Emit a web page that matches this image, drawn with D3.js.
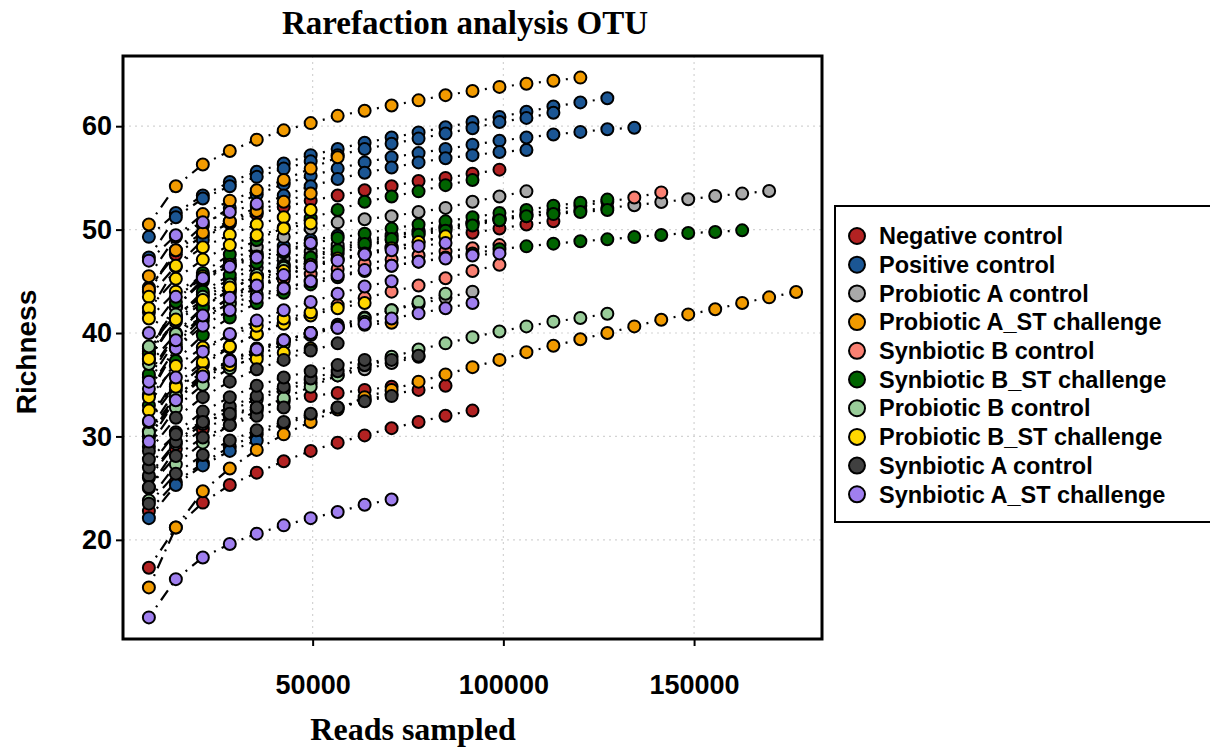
<!DOCTYPE html>
<html lang="en">
<head>
  <meta charset="UTF-8">
  <title>Rarefaction analysis OTU</title>
  <style>
    body { margin: 0; background: #fff; }
    svg { display: block; }
  </style>
</head>
<body>
<svg id="chart"></svg>
<script src="https://cdn.jsdelivr.net/npm/d3@7/dist/d3.min.js"></script>
<script>
// reads sampled at each rarefaction step
const depths = [7070, 14140, 21210, 28280, 35350, 42420, 49490, 56560, 63630, 70700,
  77770, 84840, 91910, 98980, 106050, 113120, 120190, 127260, 134330, 141400,
  148470, 155540, 162610, 169680, 176750];

const groupNames = ['Negative control', 'Positive control', 'Probiotic A control',
  'Probiotic A_ST challenge', 'Synbiotic B control', 'Synbiotic B_ST challenge',
  'Probiotic B control', 'Probiotic B_ST challenge', 'Synbiotic A control',
  'Synbiotic A_ST challenge'];
const groupColors = ['#B22222', '#1B5694', '#A9A9A9', '#F29B00', '#FA8072',
  '#006400', '#99CC99', '#FFD700', '#404040', '#A07FEF'];

// richness per sample (one array per sample, one value per depth)
const negativeControl = [
  [44.4, 47.6, 49.4, 50.6, 51.5, 52.2, 52.8, 53.3, 53.8, 54.2, 54.7, 55.0, 55.4, 55.8],
  [34.0, 38.5, 41.2, 43.0, 44.4, 45.5, 46.4, 47.1, 47.7, 48.3, 48.8, 49.3, 49.7, 50.1, 50.5, 50.8],
  [35.7, 39.8, 42.4, 44.2, 45.5, 46.6, 47.5, 48.2, 48.8, 49.3, 49.8, 50.2, 50.6, 50.9],
  [22.8, 25.6, 27.4, 29.0, 30.2, 31.2, 32.0, 32.8, 33.5, 34.1, 34.5, 34.9],
  [25.0, 28.8, 30.7, 31.9, 32.8, 33.4, 33.9, 34.2, 34.5, 34.8],
  [17.3, 21.2, 23.6, 25.3, 26.5, 27.6, 28.6, 29.4, 30.1, 30.8, 31.4, 32.0, 32.5]
];
const positiveControl = [
  [49.3, 51.6, 53.3, 54.6, 55.6, 56.4, 57.2, 57.8, 58.4, 58.9, 59.4, 59.9, 60.4, 60.9, 61.4, 61.9, 62.3, 62.7],
  [47.3, 51.2, 53.0, 54.2, 55.1, 55.9, 56.6, 57.2, 57.8, 58.3, 58.8, 59.3, 59.8, 60.4, 60.8, 61.3],
  [44.0, 48.0, 50.4, 52.1, 53.4, 54.4, 55.2, 55.9, 56.5, 57.0, 57.4, 57.8, 58.2, 58.6, 58.9, 59.2, 59.45, 59.7, 59.85],
  [42.0, 46.4, 49.0, 50.8, 52.2, 53.3, 54.2, 54.9, 55.5, 56.0, 56.5, 56.9, 57.2, 57.5, 57.7],
  [38.5, 42.5, 45.0, 46.6, 47.7, 48.4, 49.0, 49.4],
  [22.1, 25.3, 27.2, 28.6, 29.6]
];
const probioticAControl = [
  [38.0, 42.5, 45.2, 47.0, 48.3, 49.3, 50.1, 50.7, 51.0, 51.3, 51.7, 52.1, 52.7, 53.2, 53.7],
  [37.5, 41.5, 43.7, 45.2, 46.3, 47.2, 47.9, 48.5, 49.0, 49.45, 49.9, 50.3, 50.7, 51.0, 51.3, 51.6, 51.85, 52.1, 52.35, 52.67, 52.93, 53.25, 53.48, 53.74],
  [30.0, 33.5, 35.6, 37.0, 38.2, 39.2, 40.0, 40.8, 41.5, 42.2, 42.8, 43.4, 44.0],
  [26.0, 29.3, 31.2, 32.5, 33.6, 34.5, 35.2, 35.9, 36.5, 37.1, 37.7]
];
const probioticASTChallenge = [
  [50.5, 54.2, 56.3, 57.6, 58.7, 59.6, 60.3, 61.0, 61.5, 62.0, 62.5, 63.0, 63.4, 63.8, 64.1, 64.4, 64.7],
  [15.4, 21.2, 24.7, 26.9, 28.7, 30.2, 31.4, 32.6, 33.8, 34.5, 35.3, 36.0, 36.7, 37.4, 38.15, 38.77, 39.4, 40.0, 40.64, 41.29, 41.8, 42.3, 42.9, 43.45, 43.96],
  [45.5, 49.3, 51.5, 52.8, 53.8, 54.8, 55.9, 57.0],
  [44.2, 48.0, 49.7, 50.8, 51.8, 52.7, 53.5],
  [30.0, 33.8, 36.0, 37.4, 38.5, 39.3, 40.0, 40.5, 40.8, 41.0]
];
const synbioticBControl = [
  [34.0, 38.9, 41.6, 43.5, 44.9, 46.0, 46.9, 47.7, 48.4, 49.0, 49.6, 50.1, 50.6, 51.1, 51.5, 51.9, 52.3, 52.7, 53.1, 53.6],
  [30.5, 34.5, 36.9, 38.6, 39.9, 41.0, 41.9, 42.7, 43.4, 44.0, 44.6, 45.3, 46.0, 46.6],
  [38.2, 41.1, 42.9, 43.9, 44.6, 45.2, 45.7, 46.2, 46.7, 47.1, 47.5, 47.9, 48.2, 48.5]
];
const synbioticBSTChallenge = [
  [38.0, 43.0, 45.8, 47.6, 49.0, 50.2, 51.1, 51.9, 52.7, 53.2, 53.7, 54.3, 54.8],
  [37.5, 41.5, 44.0, 45.6, 46.8, 47.8, 48.6, 49.2, 49.6, 50.1, 50.5, 50.8, 51.2, 51.6, 51.9, 52.3, 52.6, 52.9],
  [36.0, 40.0, 42.5, 44.2, 45.5, 46.5, 47.3, 48.0, 48.6, 49.1, 49.5, 49.9, 50.4, 50.9, 51.3, 51.5, 51.7, 51.9],
  [33.0, 37.3, 39.8, 41.5, 42.9, 43.9, 44.7, 45.4, 46.0, 46.5, 46.9, 47.3, 47.7, 48.1, 48.38, 48.64, 48.87, 49.06, 49.28, 49.48, 49.67, 49.77, 49.93]
];
const probioticBControl = [
  [23.8, 27.3, 29.4, 31.1, 32.5, 33.7, 34.8, 35.9, 36.9, 37.7, 38.4, 39.0, 39.6, 40.15, 40.64, 41.1, 41.45, 41.87],
  [29.0, 32.8, 35.0, 36.6, 37.8, 38.9, 39.8, 40.6, 41.4, 42.2, 43.0, 43.8],
  [30.4, 33.9, 35.9, 37.3, 38.4, 39.3, 40.0, 40.6, 41.1],
  [37.0, 39.9, 41.6, 42.8, 43.7, 44.4, 45.0],
  [38.7, 41.8, 43.5, 44.7, 45.6, 46.3]
];
const probioticBSTChallenge = [
  [37.5, 41.3, 43.2, 44.4, 45.3, 46.0, 46.6, 47.2, 47.7, 48.2, 48.8, 49.35],
  [31.4, 35.0, 37.2, 38.7, 39.9, 40.9, 41.7, 42.4, 42.9],
  [43.5, 46.5, 48.3, 49.5, 50.5, 51.2, 51.9],
  [42.4, 45.25, 47.1, 48.5, 49.45, 50.1, 50.6],
  [33.8, 36.8, 38.6, 39.8, 40.7, 41.4, 42.0],
  [32.5, 34.8, 36.1, 36.9, 37.5, 38.1, 38.5],
  [41.4, 44.0, 45.5, 46.6, 47.4]
];
const synbioticAControl = [
  [23.5, 26.4, 28.2, 29.6, 30.6, 31.4, 32.2, 32.8, 33.4, 33.9],
  [26.2, 29.5, 31.5, 32.9, 33.9, 34.8, 35.6, 36.3, 36.9, 37.4, 37.8],
  [27.0, 30.4, 32.4, 33.8, 34.9, 35.7, 36.3, 36.9, 37.4],
  [28.6, 31.8, 33.8, 35.3, 36.5, 37.4, 38.3, 39.0],
  [25.1, 28.1, 29.9, 31.1, 32.0, 32.8],
  [27.8, 30.2, 31.4, 32.2, 32.8]
];
const synbioticASTChallenge = [
  [12.5, 16.2, 18.3, 19.6, 20.6, 21.4, 22.1, 22.7, 23.4, 23.9],
  [47.0, 49.45, 50.7, 51.7, 52.5],
  [34.6, 38.5, 40.7, 42.2, 43.4, 44.3, 45.0, 45.6, 46.1, 46.5, 46.9, 47.2, 47.5, 47.7],
  [35.3, 39.3, 41.7, 43.4, 44.6, 45.6, 46.4, 47.0, 47.6, 48.0, 48.4, 48.7],
  [29.5, 33.5, 35.8, 37.3, 38.4, 39.3, 40.0, 40.5, 40.9, 41.4, 41.9, 42.4, 42.9],
  [40.0, 43.5, 45.3, 46.4, 47.3, 48.0, 48.7],
  [31.5, 35.7, 38.2, 39.9, 41.2, 42.2, 43.0, 43.8, 44.5, 45.0]
];

const yTicks = [20, 30, 40, 50, 60];
const xTicks = [50000, 100000, 150000];

const groupSamples = [negativeControl, positiveControl, probioticAControl,
  probioticASTChallenge, synbioticBControl, synbioticBSTChallenge,
  probioticBControl, probioticBSTChallenge, synbioticAControl, synbioticASTChallenge];

// flatten into one list of curves
const curves = [];
groupSamples.forEach((samples, gi) => {
  samples.forEach(vals => {
    curves.push({
      group: gi,
      points: vals.map((v, i) => ({ x: depths[i], y: v }))
    });
  });
});

const width = 1210;
const height = 748;
const plot = { left: 123, right: 822, top: 56, bottom: 639 };

const svg = d3.select('#chart')
  .attr('width', width)
  .attr('height', height);

// R style 4% padding on both axes
const allPts = curves.flatMap(c => c.points);
const xExt = d3.extent(allPts, d => d.x);
const yExt = d3.extent(allPts, d => d.y);
const xPad = (xExt[1] - xExt[0]) * 0.04;
const yPad = (yExt[1] - yExt[0]) * 0.04;

const x = d3.scaleLinear()
  .domain([xExt[0] - xPad, xExt[1] + xPad])
  .range([plot.left, plot.right]);
const y = d3.scaleLinear()
  .domain([yExt[0] - yPad, yExt[1] + yPad])
  .range([plot.bottom, plot.top]);

const color = d3.scaleOrdinal().domain(d3.range(groupNames.length)).range(groupColors);

// grid
const grid = svg.append('g');
grid.selectAll('.vgrid')
  .data(xTicks)
  .enter()
  .append('line')
  .attr('x1', d => x(d)).attr('x2', d => x(d))
  .attr('y1', plot.top).attr('y2', plot.bottom)
  .attr('stroke', '#d3d3d3')
  .attr('stroke-width', 1.2)
  .attr('stroke-dasharray', '2,4');
grid.selectAll('.hgrid')
  .data(yTicks)
  .enter()
  .append('line')
  .attr('x1', plot.left).attr('x2', plot.right)
  .attr('y1', d => y(d)).attr('y2', d => y(d))
  .attr('stroke', '#d3d3d3')
  .attr('stroke-width', 1.2)
  .attr('stroke-dasharray', '2,4');

// curves: one dash-dot segment per step so the dot lands between two points
const segments = curves.flatMap(c => d3.pairs(c.points));
svg.append('g')
  .selectAll('line')
  .data(segments)
  .enter()
  .append('line')
  .attr('x1', d => x(d[0].x))
  .attr('y1', d => y(d[0].y))
  .attr('x2', d => x(d[1].x))
  .attr('y2', d => y(d[1].y))
  .attr('stroke', '#000')
  .attr('stroke-width', 2.2)
  .attr('stroke-dasharray', '12,6.5,2,6.5')
  .attr('stroke-dashoffset', 6);

// points
const pts = svg.append('g');
curves.forEach(c => {
  pts.selectAll(null)
    .data(c.points)
    .enter()
    .append('circle')
    .attr('cx', d => x(d.x))
    .attr('cy', d => y(d.y))
    .attr('r', 6)
    .attr('fill', color(c.group))
    .attr('stroke', '#000')
    .attr('stroke-width', 2);
});

// box
svg.append('rect')
  .attr('x', plot.left)
  .attr('y', plot.top)
  .attr('width', plot.right - plot.left)
  .attr('height', plot.bottom - plot.top)
  .attr('fill', 'none')
  .attr('stroke', '#000')
  .attr('stroke-width', 3);

// axes
const xAxis = svg.append('g')
  .attr('transform', `translate(0, ${plot.bottom})`)
  .call(d3.axisBottom(x).tickValues(xTicks).tickSize(7).tickSizeOuter(0).tickPadding(29).tickFormat(d3.format('d')));
const yAxis = svg.append('g')
  .attr('transform', `translate(${plot.left}, 0)`)
  .call(d3.axisLeft(y).tickValues(yTicks).tickSize(7).tickSizeOuter(0).tickPadding(4));

[xAxis, yAxis].forEach(a => {
  a.select('.domain').remove();
  a.selectAll('line').attr('stroke', '#000').attr('stroke-width', 2);
  a.selectAll('text')
    .attr('fill', '#000')
    .style('font-family', '"Liberation Sans", Arial, sans-serif')
    .style('font-weight', 'bold')
    .style('font-size', '27px');
});

// titles
svg.append('text')
  .attr('x', 465)
  .attr('y', 34)
  .attr('text-anchor', 'middle')
  .style('font-family', '"Liberation Serif", "Times New Roman", serif')
  .style('font-weight', 'bold')
  .style('font-size', '33px')
  .text('Rarefaction analysis OTU');

svg.append('text')
  .attr('x', 413)
  .attr('y', 740)
  .attr('text-anchor', 'middle')
  .style('font-family', '"Liberation Serif", "Times New Roman", serif')
  .style('font-weight', 'bold')
  .style('font-size', '32px')
  .text('Reads sampled');

svg.append('text')
  .attr('transform', `translate(36, ${352}) rotate(-90)`)
  .attr('text-anchor', 'middle')
  .style('font-family', '"Liberation Sans", Arial, sans-serif')
  .style('font-weight', 'bold')
  .style('font-size', '28px')
  .text('Richness');

// legend
const legend = svg.append('g');
legend.append('rect')
  .attr('x', 835)
  .attr('y', 206)
  .attr('width', 400)
  .attr('height', 316)
  .attr('fill', '#fff')
  .attr('stroke', '#000')
  .attr('stroke-width', 2);

const items = legend.selectAll('.item')
  .data(groupNames)
  .enter()
  .append('g')
  .attr('transform', (d, i) => `translate(857, ${236 + i * 28.7})`);
items.append('circle')
  .attr('r', 8)
  .attr('fill', (d, i) => groupColors[i])
  .attr('stroke', '#000')
  .attr('stroke-width', 2);
items.append('text')
  .attr('x', 22)
  .attr('dy', '0.35em')
  .style('font-family', '"Liberation Sans", Arial, sans-serif')
  .style('font-weight', 'bold')
  .style('font-size', '23.5px')
  .text(d => d);
</script>
</body>
</html>
